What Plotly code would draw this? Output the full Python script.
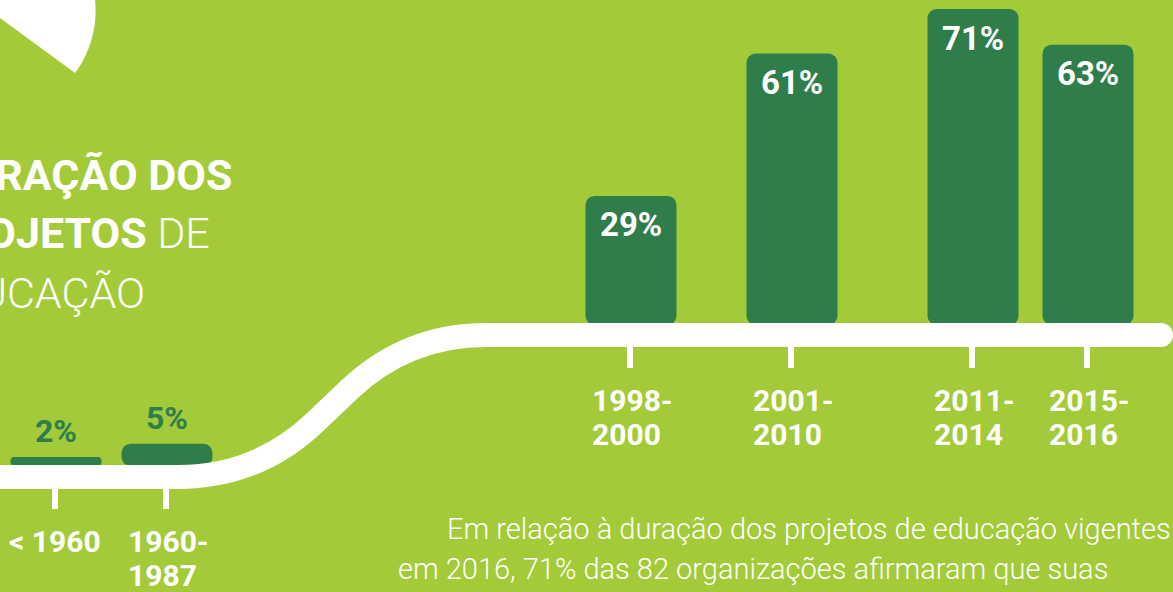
import math
import plotly.graph_objects as go

# ---------------- data ----------------
categories = ["< 1960", "1960-<br>1987", "1998-<br>2000", "2001-<br>2010", "2011-<br>2014", "2015-<br>2016"]
values = [2, 5, 29, 61, 71, 63]
value_labels = ["2%", "5%", "29%", "61%", "71%", "63%"]
title_lines = ["<b>DURAÇÃO DOS</b>", "<b>PROJETOS</b> DE", "EDUCAÇÃO"]
note_lines = ["Em relação à duração dos projetos de educação vigentes",
              "em 2016, 71% das 82 organizações afirmaram que suas"]

# ---------------- layout / style ----------------
W, H = 1173, 592
BG = "#A3CB39"
BAR = "#2E7D4B"
WHITE = "#FFFFFF"
FONT = "Roboto"
x_pos = [56, 167, 631, 792, 973, 1088]      # horizontal placement of bars (px)
on_upper_road = [False, False, True, True, True, True]
PX_PER_PCT = 4.45
LOW_BASE_PX = 466
HIGH_BASE_PX = 325
BAR_W = 91

y_lo = -(H - LOW_BASE_PX) / PX_PER_PCT
y_hi = LOW_BASE_PX / PX_PER_PCT
high_base = (LOW_BASE_PX - HIGH_BASE_PX) / PX_PER_PCT
bases = [high_base if u else 0.0 for u in on_upper_road]


def py(p):
    """pixel y -> paper fraction"""
    return 1 - p / H


fig = go.Figure()
fig.add_trace(go.Bar(
    x=x_pos, y=values, base=bases, width=BAR_W,
    marker=dict(color=BAR, line=dict(width=0)),
    hoverinfo="skip", showlegend=False,
))

shapes = []

# white pie wedge top-left
cx, cy, r = -10.4, 10.4, 106
a1 = math.degrees(math.atan2(62.6, 85.4))
pts = []
n = 60
for i in range(n + 1):
    a = math.radians(a1 - (a1 + 150) * i / n)
    pts.append((cx + r * math.cos(a), cy + r * math.sin(a)))
path = f"M {cx},{py(cy)} " + " ".join(f"L {x:.2f},{py(y):.5f}" for x, y in pts) + " Z"
shapes.append(dict(type="path", xref="x", yref="paper", path=path,
                   fillcolor=WHITE, line=dict(width=0), layer="above"))

# road
road_pts = [("M", [(-30, 477)]), ("L", [(178, 477)]), ("Q", [(257, 477), (314.4, 422.7)]),
            ("L", [(349.6, 389.3)]), ("Q", [(407, 335), (486, 335)]), ("L", [(1161, 335)])]
road_path = " ".join(cmd + " " + " ".join(f"{x},{py(y):.5f}" for x, y in ps) for cmd, ps in road_pts)
shapes.append(dict(type="path", xref="x", yref="paper", path=road_path,
                   fillcolor="rgba(0,0,0,0)", line=dict(color=WHITE, width=24), layer="above"))
shapes.append(dict(type="circle", xref="x", yref="paper", x0=1149, x1=1173,
                   y0=py(347), y1=py(323), fillcolor=WHITE, line=dict(width=0), layer="above"))

annotations = []
for xp, up, cat, val, lab in zip(x_pos, on_upper_road, categories, values, value_labels):
    base_px = HIGH_BASE_PX if up else LOW_BASE_PX
    # tick
    shapes.append(dict(type="line", xref="x", yref="paper", x0=xp - 1, x1=xp - 1,
                       y0=py(base_px + 22), y1=py(base_px + 43),
                       line=dict(color=WHITE, width=6), layer="above"))
    # category label lines
    lines = cat.split("<br>")
    for k, ln in enumerate(lines):
        if len(lines) > 1:
            ax, xa = xp - 39, "left"
        else:
            ax, xa = xp - 1, "center"
        annotations.append(dict(x=ax, y=py(base_px + 75.5 + k * 33.5), xref="x", yref="paper",
                                text=ln, showarrow=False, xanchor=xa, yanchor="middle",
                                borderpad=0, borderwidth=0,
                                font=dict(family=FONT, size=30, color=WHITE, weight=700)))
    # value labels
    bval = high_base if up else 0.0
    if up:
        annotations.append(dict(x=xp, y=bval + val, xref="x", yref="y", text=lab,
                                showarrow=False, xanchor="center", yanchor="middle", yshift=-29,
                                borderpad=0, borderwidth=0,
                                font=dict(family=FONT, size=33, color=WHITE, weight=700)))
    else:
        annotations.append(dict(x=xp, y=bval + val, xref="x", yref="y", text=lab,
                                showarrow=False, xanchor="center", yanchor="middle", yshift=26,
                                borderpad=0, borderwidth=0,
                                font=dict(family=FONT, size=32, color=BAR, weight=700)))

# title (cut off on the left, as in the source)
title_right = [232, 210, 145]
title_cy = [175.5, 232.5, 292.5]
for t, xr, yc in zip(title_lines, title_right, title_cy):
    annotations.append(dict(x=xr, y=py(yc), xref="x", yref="paper", text=t, showarrow=False,
                            xanchor="right", yanchor="middle", borderpad=0, borderwidth=0,
                            font=dict(family=FONT, size=43, color=WHITE, weight=300)))

# note text
note_left = [447, 398]
note_cy = [529, 569]
for t, xl, yc in zip(note_lines, note_left, note_cy):
    annotations.append(dict(x=xl, y=py(yc), xref="x", yref="paper", text=t, showarrow=False,
                            xanchor="left", yanchor="middle", borderpad=0, borderwidth=0,
                            font=dict(family=FONT, size=29, color=WHITE, weight=300)))

fig.update_layout(
    width=W, height=H, margin=dict(l=0, r=0, t=0, b=0),
    paper_bgcolor=BG, plot_bgcolor=BG,
    barcornerradius=9,
    xaxis=dict(range=[0, W], visible=False, fixedrange=True),
    yaxis=dict(range=[y_lo, y_hi], visible=False, fixedrange=True),
    shapes=shapes, annotations=annotations,
    showlegend=False,
)

fig.write_html(
    "out.html",
    config={"displayModeBar": False},
    post_script="document.body.style.margin='0';document.body.style.overflow='hidden';",
)
